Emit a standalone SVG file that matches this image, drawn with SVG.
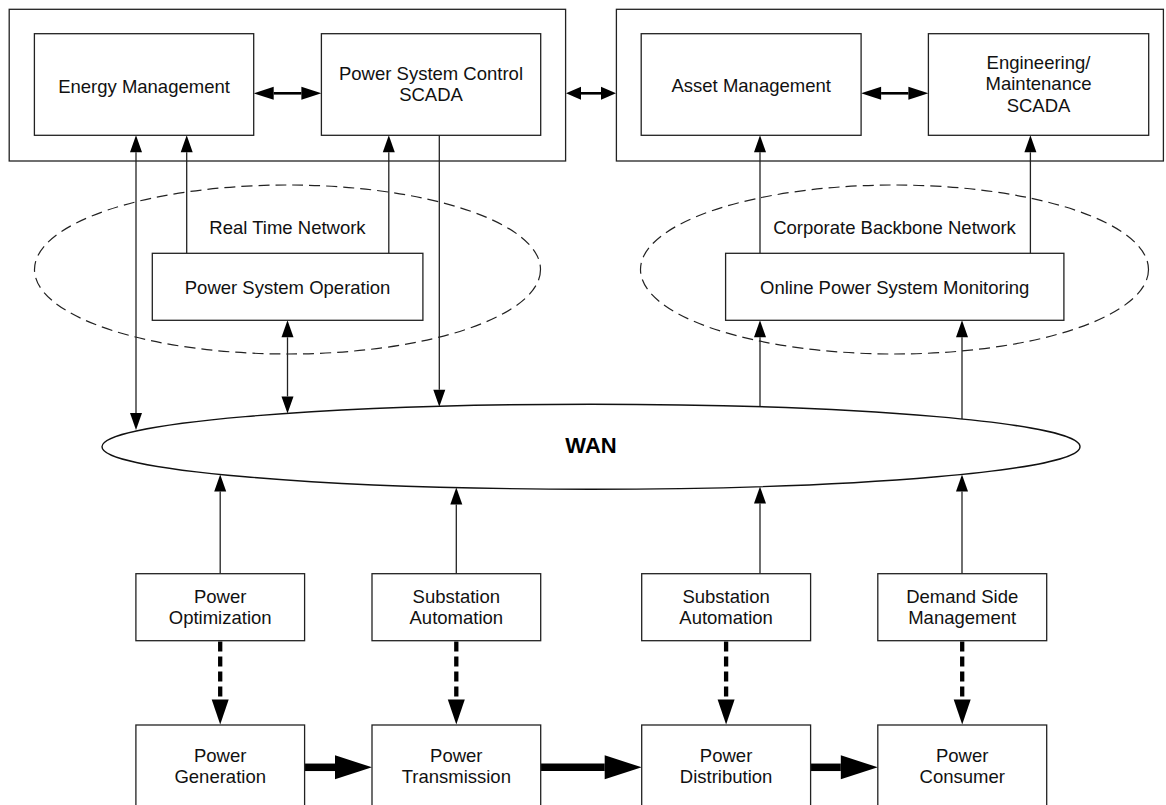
<svg xmlns="http://www.w3.org/2000/svg" width="1166" height="805" viewBox="0 0 1166 805">
  <style>
    .box { fill: #fff; stroke: #222; stroke-width: 1.3; }
    .frame { fill: none; stroke: #222; stroke-width: 1.3; }
    .net { fill: none; stroke: #222; stroke-width: 1.2; stroke-dasharray: 11 6; }
    .wan { fill: #fff; stroke: #111; stroke-width: 1.4; }
    .lbl { font-family: "Liberation Sans", Arial, sans-serif; font-size: 18.5px; fill: #111; text-anchor: middle; }
    .wanlbl { font-family: "Liberation Sans", Arial, sans-serif; font-size: 22px; font-weight: bold; fill: #000; text-anchor: middle; }
    .thin { fill: none; stroke: #222; stroke-width: 1.3; }
    .dbl { fill: none; stroke: #000; stroke-width: 2.6; }
    .dash { fill: none; stroke: #000; stroke-width: 4.3; stroke-dasharray: 10 5; }
    .flow { fill: none; stroke: #000; stroke-width: 7.5; }
  </style>
  <defs>
    <!-- arrowheads: refX=0 so the head starts where the line stops -->
    <marker id="hThin" markerUnits="userSpaceOnUse" markerWidth="17" markerHeight="12" refX="0" refY="6" orient="auto-start-reverse" overflow="visible">
      <path d="M0,0 L17,6 L0,12 z" fill="#000"/>
    </marker>
    <marker id="hMed" markerUnits="userSpaceOnUse" markerWidth="20" markerHeight="13" refX="0" refY="6.5" orient="auto-start-reverse" overflow="visible">
      <path d="M0,0 L20,6.5 L0,13 z" fill="#000"/>
    </marker>
    <marker id="hShort" markerUnits="userSpaceOnUse" markerWidth="15" markerHeight="13" refX="0" refY="6.5" orient="auto-start-reverse" overflow="visible">
      <path d="M0,0 L15,6.5 L0,13 z" fill="#000"/>
    </marker>
    <marker id="hDash" markerUnits="userSpaceOnUse" markerWidth="25" markerHeight="17" refX="0" refY="8.5" orient="auto" overflow="visible">
      <path d="M0,0 L25,8.5 L0,17 z" fill="#000"/>
    </marker>
    <marker id="hFlow" markerUnits="userSpaceOnUse" markerWidth="37" markerHeight="24" refX="0" refY="12" orient="auto" overflow="visible">
      <path d="M0,0 L37,12 L0,24 z" fill="#000"/>
    </marker>
  </defs>

  <!-- control centre groupings -->
  <g id="control-center">
    <rect class="frame" x="9.2" y="9.3" width="556.4" height="151.7"/>
  </g>
  <g id="corporate-center">
    <rect class="frame" x="616.4" y="9.3" width="547" height="151.7"/>
  </g>

  <!-- network clouds -->
  <g id="real-time-network">
    <ellipse class="net" cx="287.5" cy="269.5" rx="253" ry="84.5"/>
    <text class="lbl" x="287.5" y="234.3">Real Time Network</text>
  </g>
  <g id="corporate-backbone-network">
    <ellipse class="net" cx="894.5" cy="269.5" rx="254" ry="84.5"/>
    <text class="lbl" x="894.5" y="234.3">Corporate Backbone Network</text>
  </g>

  <!-- connectors -->
  <g id="connectors">
    <!-- top row links -->
    <line class="dbl" x1="273.7" y1="93.3" x2="301.4" y2="93.3" marker-start="url(#hMed)" marker-end="url(#hMed)"/>
    <line class="dbl" x1="581" y1="93.3" x2="601" y2="93.3" marker-start="url(#hShort)" marker-end="url(#hShort)"/>
    <line class="dbl" x1="881.1" y1="93.3" x2="908.4" y2="93.3" marker-start="url(#hMed)" marker-end="url(#hMed)"/>

    <!-- left side -->
    <line class="thin" x1="136" y1="152.3" x2="136" y2="413" marker-start="url(#hThin)" marker-end="url(#hThin)"/>
    <line class="thin" x1="186.7" y1="253.3" x2="186.7" y2="152.3" marker-end="url(#hThin)"/>
    <line class="thin" x1="388.8" y1="253.3" x2="388.8" y2="152.3" marker-end="url(#hThin)"/>
    <line class="thin" x1="439.3" y1="135.3" x2="439.3" y2="389.7" marker-end="url(#hThin)"/>
    <line class="thin" x1="287.5" y1="337.3" x2="287.5" y2="396.4" marker-start="url(#hThin)" marker-end="url(#hThin)"/>

    <!-- right side -->
    <line class="thin" x1="760" y1="253.3" x2="760" y2="152.3" marker-end="url(#hThin)"/>
    <line class="thin" x1="1030.4" y1="253.3" x2="1030.4" y2="152.3" marker-end="url(#hThin)"/>
    <line class="thin" x1="760" y1="406.8" x2="760" y2="337.3" marker-end="url(#hThin)"/>
    <line class="thin" x1="962" y1="419" x2="962" y2="337.3" marker-end="url(#hThin)"/>

    <!-- field applications up to the WAN -->
    <line class="thin" x1="220.2" y1="573.7" x2="220.2" y2="491.4" marker-end="url(#hThin)"/>
    <line class="thin" x1="456.3" y1="573.7" x2="456.3" y2="504.6" marker-end="url(#hThin)"/>
    <line class="thin" x1="760" y1="573.7" x2="760" y2="503.6" marker-end="url(#hThin)"/>
    <line class="thin" x1="962" y1="573.7" x2="962" y2="491.4" marker-end="url(#hThin)"/>

    <!-- control of the physical power chain -->
    <line class="dash" x1="220.2" y1="641.5" x2="220.2" y2="699.5" marker-end="url(#hDash)"/>
    <line class="dash" x1="456.3" y1="641.5" x2="456.3" y2="699.5" marker-end="url(#hDash)"/>
    <line class="dash" x1="726.1" y1="641.5" x2="726.1" y2="699.5" marker-end="url(#hDash)"/>
    <line class="dash" x1="962.2" y1="641.5" x2="962.2" y2="699.5" marker-end="url(#hDash)"/>

    <!-- energy flow -->
    <line class="flow" x1="304.6" y1="767.3" x2="335" y2="767.3" marker-end="url(#hFlow)"/>
    <line class="flow" x1="540.7" y1="767.3" x2="604.7" y2="767.3" marker-end="url(#hFlow)"/>
    <line class="flow" x1="810.6" y1="767.3" x2="840.8" y2="767.3" marker-end="url(#hFlow)"/>
  </g>

  <!-- WAN -->
  <g id="wan">
    <ellipse class="wan" cx="591" cy="446.7" rx="489" ry="42.5"/>
    <text class="wanlbl" x="591" y="453.3">WAN</text>
  </g>

  <!-- control centre applications -->
  <g id="energy-management">
    <rect class="box" x="34.4" y="33.7" width="219.3" height="101.6"/>
    <text class="lbl" x="144" y="92.5">Energy Management</text>
  </g>
  <g id="power-system-control">
    <rect class="box" x="321.4" y="33.7" width="219.3" height="101.6"/>
    <text class="lbl" x="431" y="80.3">Power System Control</text>
    <text class="lbl" x="431" y="101">SCADA</text>
  </g>
  <g id="asset-management">
    <rect class="box" x="641.2" y="33.7" width="219.9" height="101.6"/>
    <text class="lbl" x="751.2" y="92">Asset Management</text>
  </g>
  <g id="engineering-maintenance">
    <rect class="box" x="928.4" y="33.7" width="220.3" height="101.6"/>
    <text class="lbl" x="1038.5" y="68.5">Engineering/</text>
    <text class="lbl" x="1038.5" y="90">Maintenance</text>
    <text class="lbl" x="1038.5" y="111.5">SCADA</text>
  </g>

  <!-- network-level systems -->
  <g id="power-system-operation">
    <rect class="box" x="152.3" y="253.3" width="270.6" height="67"/>
    <text class="lbl" x="287.6" y="293.8">Power System Operation</text>
  </g>
  <g id="online-monitoring">
    <rect class="box" x="725.6" y="253.3" width="338.3" height="67"/>
    <text class="lbl" x="894.7" y="294">Online Power System Monitoring</text>
  </g>

  <!-- field applications -->
  <g id="power-optimization">
    <rect class="box" x="135.9" y="573.7" width="168.7" height="67"/>
    <text class="lbl" x="220.2" y="602.7">Power</text>
    <text class="lbl" x="220.2" y="623.7">Optimization</text>
  </g>
  <g id="substation-automation-t">
    <rect class="box" x="372" y="573.7" width="168.7" height="67"/>
    <text class="lbl" x="456.3" y="602.7">Substation</text>
    <text class="lbl" x="456.3" y="623.7">Automation</text>
  </g>
  <g id="substation-automation-d">
    <rect class="box" x="641.7" y="573.7" width="168.9" height="67"/>
    <text class="lbl" x="726.1" y="602.7">Substation</text>
    <text class="lbl" x="726.1" y="623.7">Automation</text>
  </g>
  <g id="demand-side-management">
    <rect class="box" x="877.8" y="573.7" width="168.9" height="67"/>
    <text class="lbl" x="962.2" y="602.7">Demand Side</text>
    <text class="lbl" x="962.2" y="623.7">Management</text>
  </g>

  <!-- physical power chain -->
  <g id="power-generation">
    <rect class="box" x="135.9" y="725" width="168.7" height="84"/>
    <text class="lbl" x="220.2" y="762.3">Power</text>
    <text class="lbl" x="220.2" y="783.3">Generation</text>
  </g>
  <g id="power-transmission">
    <rect class="box" x="372" y="725" width="168.7" height="84"/>
    <text class="lbl" x="456.3" y="762.3">Power</text>
    <text class="lbl" x="456.3" y="783.3">Transmission</text>
  </g>
  <g id="power-distribution">
    <rect class="box" x="641.7" y="725" width="168.9" height="84"/>
    <text class="lbl" x="726.1" y="762.3">Power</text>
    <text class="lbl" x="726.1" y="783.3">Distribution</text>
  </g>
  <g id="power-consumer">
    <rect class="box" x="877.8" y="725" width="168.9" height="84"/>
    <text class="lbl" x="962.2" y="762.3">Power</text>
    <text class="lbl" x="962.2" y="783.3">Consumer</text>
  </g>
</svg>
